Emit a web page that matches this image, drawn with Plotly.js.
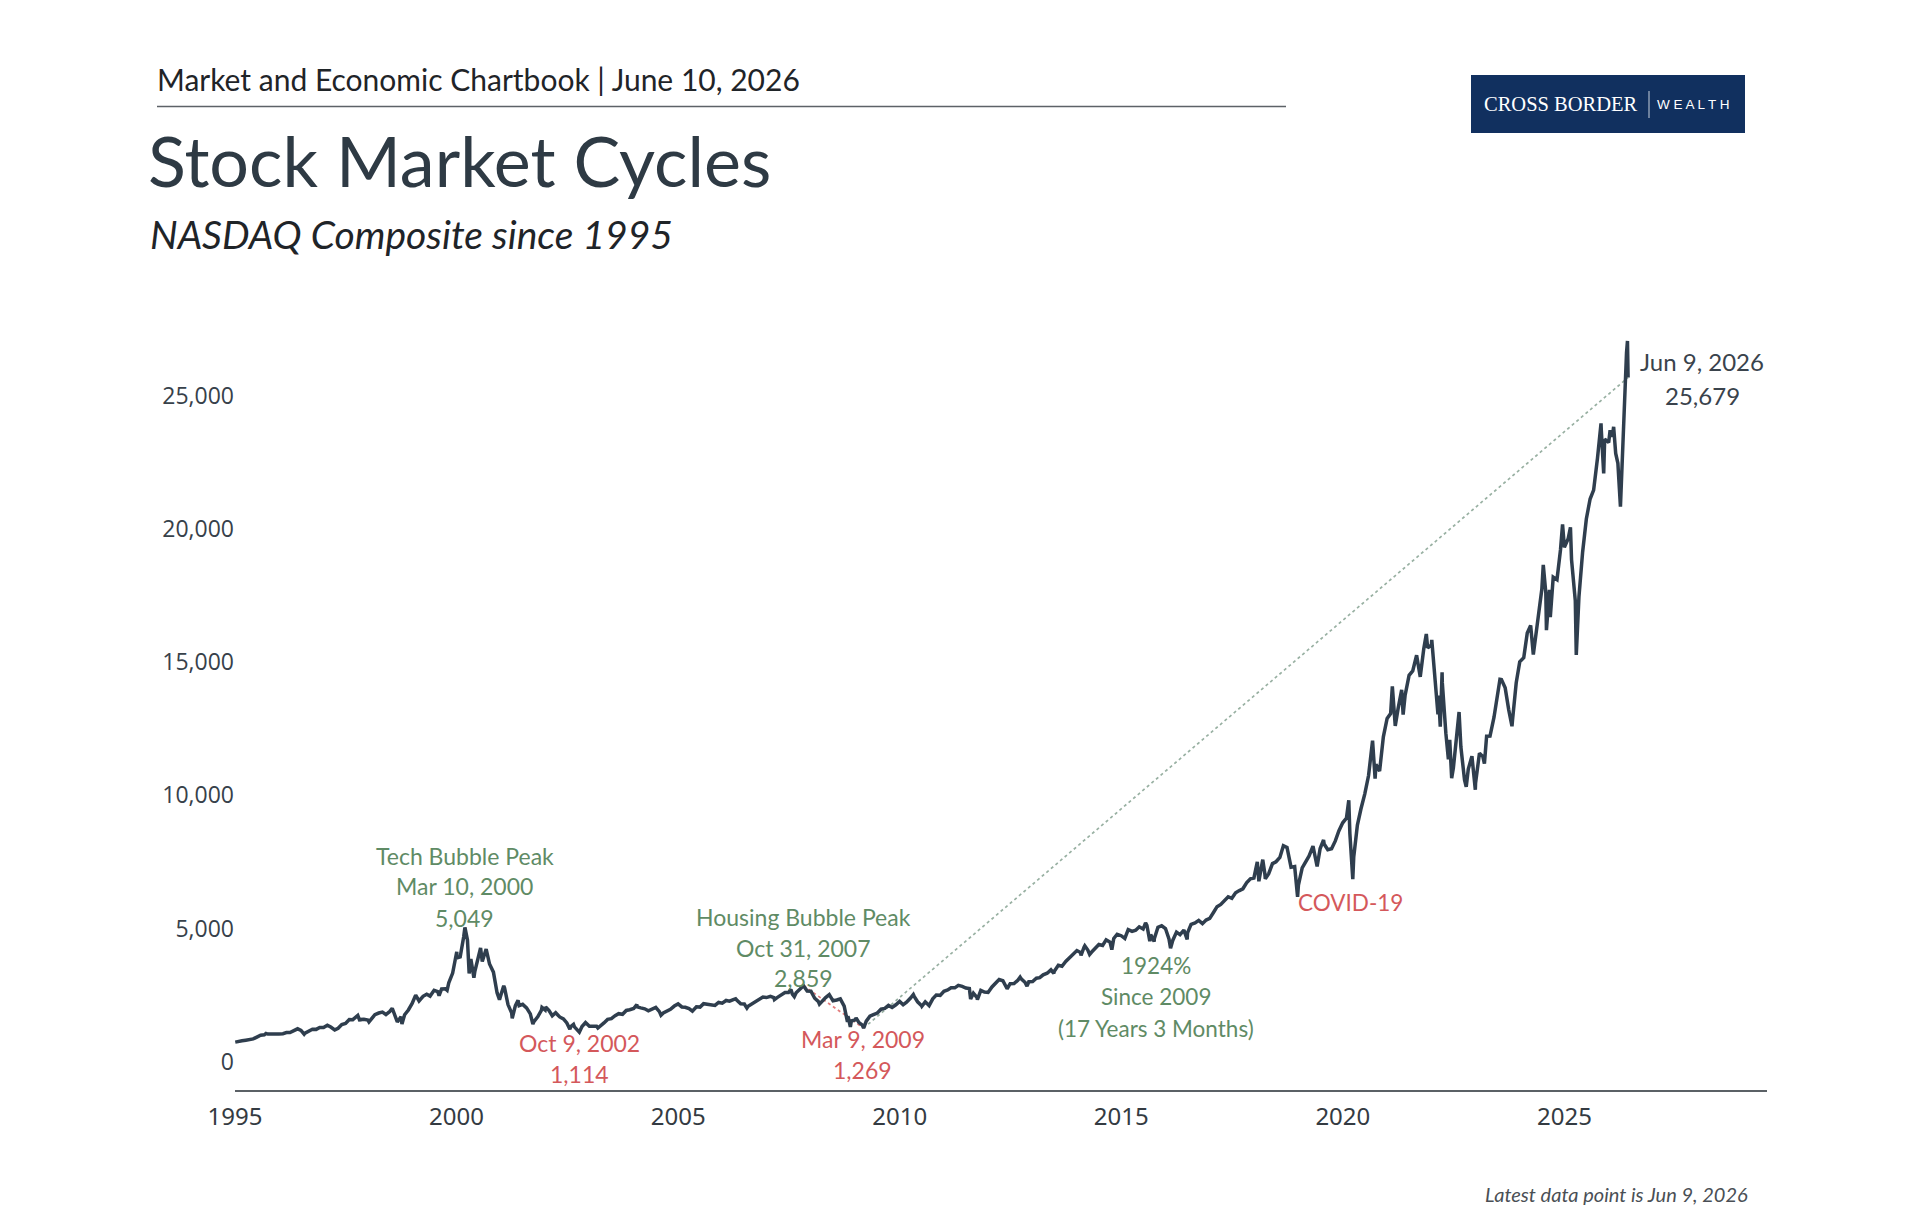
<!DOCTYPE html>
<html>
<head>
<meta charset="utf-8">
<script src="https://cdn.plot.ly/plotly-3.0.1.min.js"></script>
<style>html,body{margin:0;padding:0;background:#fff;}#chart{width:1920px;height:1205px;}</style>
</head>
<body>
<div id="chart"></div>
<script>
// NASDAQ Composite closes (month-ends plus notable intra-month turning points)
const dates = [
'1995-01-03','1995-01-31','1995-02-28','1995-03-31','1995-04-28','1995-05-31','1995-06-30','1995-07-31','1995-08-31','1995-09-13','1995-09-29','1995-10-31','1995-11-30','1995-12-29',
'1996-01-31','1996-02-29','1996-03-29','1996-04-30','1996-05-24','1996-05-31','1996-06-28','1996-07-24','1996-07-31','1996-08-30','1996-09-30','1996-10-31','1996-11-29','1996-12-31',
'1997-01-31','1997-02-28','1997-03-31','1997-04-02','1997-04-30','1997-05-30','1997-06-30','1997-07-31','1997-08-29','1997-09-30','1997-10-09','1997-10-27','1997-10-31','1997-11-28','1997-12-31',
'1998-01-09','1998-01-30','1998-02-27','1998-03-31','1998-04-30','1998-05-29','1998-06-30','1998-07-20','1998-07-31','1998-08-31','1998-09-30','1998-10-08','1998-10-30','1998-11-30','1998-12-31',
'1999-01-29','1999-02-26','1999-03-31','1999-04-30','1999-05-28','1999-06-30','1999-07-30','1999-08-10','1999-08-31','1999-09-30','1999-10-15','1999-10-29','1999-11-30','1999-12-31',
'2000-01-03','2000-01-04','2000-01-31','2000-02-29','2000-03-10','2000-03-31','2000-04-14','2000-04-28','2000-05-23','2000-05-31','2000-06-30','2000-07-17','2000-07-31','2000-08-31','2000-09-01','2000-09-29','2000-10-31','2000-11-30','2000-12-20','2000-12-29',
'2001-01-24','2001-01-31','2001-02-28','2001-03-30','2001-04-04','2001-04-30','2001-05-22','2001-05-31','2001-06-29','2001-07-31','2001-08-31','2001-09-21','2001-09-28','2001-10-31','2001-11-30','2001-12-05','2001-12-31',
'2002-01-04','2002-01-31','2002-02-28','2002-03-28','2002-04-30','2002-05-31','2002-06-28','2002-07-23','2002-07-31','2002-08-22','2002-08-30','2002-09-30','2002-10-09','2002-10-31','2002-11-29','2002-12-31',
'2003-01-31','2003-02-28','2003-03-11','2003-03-31','2003-04-30','2003-05-30','2003-06-30','2003-07-31','2003-08-29','2003-09-30','2003-10-31','2003-11-28','2003-12-31',
'2004-01-26','2004-01-30','2004-02-27','2004-03-31','2004-04-30','2004-05-28','2004-06-30','2004-07-30','2004-08-12','2004-08-31','2004-09-30','2004-10-29','2004-11-30','2004-12-31',
'2005-01-31','2005-02-28','2005-03-31','2005-04-28','2005-05-31','2005-06-30','2005-07-29','2005-08-31','2005-09-30','2005-10-31','2005-11-30','2005-12-30',
'2006-01-31','2006-02-28','2006-03-31','2006-04-19','2006-04-28','2006-05-31','2006-06-30','2006-07-21','2006-07-31','2006-08-31','2006-09-29','2006-10-31','2006-11-30','2006-12-29',
'2007-01-31','2007-02-28','2007-03-05','2007-03-30','2007-04-30','2007-05-31','2007-06-29','2007-07-19','2007-07-31','2007-08-16','2007-08-31','2007-09-28','2007-10-31','2007-11-30','2007-12-31',
'2008-01-31','2008-02-29','2008-03-10','2008-03-31','2008-04-30','2008-05-30','2008-06-30','2008-07-31','2008-08-29','2008-09-30','2008-10-27','2008-10-31','2008-11-20','2008-11-28','2008-12-31',
'2009-01-06','2009-01-30','2009-02-27','2009-03-09','2009-03-31','2009-04-30','2009-05-29','2009-06-30','2009-07-31','2009-08-31','2009-09-30','2009-10-30','2009-11-30','2009-12-31',
'2010-01-29','2010-02-26','2010-03-31','2010-04-23','2010-04-30','2010-05-28','2010-06-30','2010-07-02','2010-07-30','2010-08-31','2010-09-30','2010-10-29','2010-11-30','2010-12-31',
'2011-01-31','2011-02-28','2011-03-31','2011-04-29','2011-05-31','2011-06-30','2011-07-29','2011-08-08','2011-08-31','2011-09-30','2011-10-03','2011-10-31','2011-11-30','2011-12-30',
'2012-01-31','2012-02-29','2012-03-30','2012-04-30','2012-05-31','2012-06-04','2012-06-29','2012-07-31','2012-08-31','2012-09-19','2012-09-28','2012-10-31','2012-11-15','2012-11-30','2012-12-31',
'2013-01-31','2013-02-28','2013-03-28','2013-04-30','2013-05-31','2013-06-24','2013-06-28','2013-07-31','2013-08-30','2013-09-30','2013-10-31','2013-11-29','2013-12-31',
'2014-01-31','2014-02-03','2014-02-28','2014-03-06','2014-03-31','2014-04-15','2014-04-30','2014-05-30','2014-06-30','2014-07-31','2014-08-29','2014-09-30','2014-10-15','2014-10-31','2014-11-28','2014-12-31',
'2015-01-30','2015-02-27','2015-03-31','2015-04-30','2015-05-29','2015-06-30','2015-07-20','2015-07-31','2015-08-24','2015-08-31','2015-09-29','2015-09-30','2015-10-30','2015-11-30','2015-12-31',
'2016-01-29','2016-02-11','2016-02-29','2016-03-31','2016-04-29','2016-05-31','2016-06-27','2016-06-30','2016-07-29','2016-08-31','2016-09-30','2016-10-31','2016-11-30','2016-12-30',
'2017-01-31','2017-02-28','2017-03-31','2017-04-28','2017-05-31','2017-06-30','2017-07-31','2017-08-31','2017-09-29','2017-10-31','2017-11-30','2017-12-29',
'2018-01-26','2018-02-08','2018-02-28','2018-03-12','2018-03-29','2018-04-02','2018-04-30','2018-05-31','2018-06-29','2018-07-31','2018-08-29','2018-09-28','2018-10-31','2018-11-30','2018-12-24','2018-12-31',
'2019-01-31','2019-02-28','2019-03-29','2019-04-30','2019-05-31','2019-06-03','2019-06-28','2019-07-26','2019-07-31','2019-08-30','2019-09-30','2019-10-31','2019-11-29','2019-12-31',
'2020-01-31','2020-02-19','2020-02-28','2020-03-23','2020-03-31','2020-04-30','2020-05-29','2020-06-30','2020-07-31','2020-08-31','2020-09-02','2020-09-23','2020-09-30','2020-10-30','2020-11-30','2020-12-31',
'2021-01-29','2021-02-12','2021-02-26','2021-03-08','2021-03-31','2021-04-30','2021-05-12','2021-05-28','2021-06-30','2021-07-30','2021-08-31','2021-09-30','2021-10-29','2021-11-19','2021-11-30','2021-12-31',
'2022-01-03','2022-01-31','2022-02-23','2022-02-28','2022-03-14','2022-03-29','2022-03-31','2022-04-29','2022-05-20','2022-05-31','2022-06-16','2022-06-30','2022-07-29','2022-08-16','2022-08-31','2022-09-30','2022-10-14','2022-10-31','2022-11-30','2022-12-28','2022-12-30',
'2023-01-31','2023-02-28','2023-03-13','2023-03-31','2023-04-28','2023-05-31','2023-06-30','2023-07-19','2023-07-31','2023-08-31','2023-09-29','2023-10-26','2023-10-31','2023-11-30','2023-12-29',
'2024-01-31','2024-02-29','2024-03-28','2024-04-19','2024-04-30','2024-05-31','2024-06-28','2024-07-10','2024-07-31','2024-08-05','2024-08-30','2024-09-06','2024-09-30','2024-10-31','2024-11-29','2024-12-16','2024-12-31',
'2025-01-31','2025-02-19','2025-02-28','2025-03-31','2025-04-08','2025-04-30','2025-05-30','2025-06-30','2025-07-31','2025-08-29','2025-09-30','2025-10-29','2025-10-31','2025-11-20','2025-11-28','2025-12-31',
'2026-01-12','2026-01-30','2026-02-10','2026-02-27','2026-03-17','2026-04-07','2026-05-27','2026-06-04','2026-06-09'
];
const closes = [
743,755,793,817,843,865,933,1001,1020,1067,1044,1036,1059,1052,
1060,1100,1101,1191,1250,1243,1185,1042,1081,1142,1227,1222,1293,1291,
1380,1309,1222,1201,1261,1400,1442,1594,1587,1686,1745,1535,1594,1601,1570,
1503,1619,1771,1835,1868,1779,1895,2014,1872,1499,1694,1419,1771,1950,2193,
2506,2288,2461,2543,2471,2686,2638,2490,2739,2746,2688,2966,3336,4069,
4131,3901,3940,4697,5049,4573,3321,3861,3164,3401,3966,4275,3767,4206,4234,3673,3370,2598,2333,2471,
2859,2773,2152,1840,1638,2116,2313,2110,2161,2027,1805,1423,1499,1690,1931,2046,1950,
2059,1934,1731,1845,1688,1616,1463,1229,1328,1409,1315,1172,1114,1330,1479,1336,
1321,1338,1271,1341,1464,1596,1623,1735,1810,1787,1932,1960,2003,
2153,2066,2030,1994,1920,1987,2048,1887,1752,1838,1897,1975,2097,2175,
2062,2052,1999,1904,2068,2057,2185,2152,2152,2120,2233,2205,
2306,2281,2340,2370,2323,2179,2172,2020,2091,2184,2258,2367,2432,2415,
2464,2416,2340,2422,2525,2605,2603,2720,2546,2451,2596,2701,2859,2661,2652,
2390,2271,2169,2279,2413,2523,2293,2326,2368,2092,1505,1721,1316,1536,1577,
1652,1476,1378,1269,1529,1717,1774,1835,1979,2009,2122,2045,2145,2269,
2147,2238,2398,2530,2461,2257,2109,2091,2255,2114,2369,2507,2498,2653,
2700,2782,2781,2874,2835,2774,2756,2358,2580,2415,2335,2684,2620,2605,
2814,2967,3092,3046,2827,2747,2935,2940,3067,3182,3116,2977,2846,3010,3020,
3142,3160,3268,3329,3456,3320,3403,3626,3590,3771,3920,4060,4177,
4104,3996,4308,4358,4199,4034,4115,4243,4408,4370,4580,4493,4215,4631,4792,4736,
4635,4964,4901,4941,5070,4987,5219,5128,4526,4777,4517,4620,5054,5109,5007,
4614,4267,4558,4870,4775,4948,4594,4843,5162,5213,5312,5189,5324,5383,
5615,5825,5912,6048,6199,6140,6348,6429,6496,6728,6874,6903,
7506,6777,7273,7589,7063,6870,7066,7442,7510,7672,8110,8046,7306,7331,6193,6635,
7282,7533,7729,8095,7453,7333,8006,8330,8175,7963,7999,8292,8665,8973,
9151,9817,8567,6861,7700,8890,9490,10059,10745,11775,12056,10633,11168,10912,12199,12888,
13071,14095,13192,12609,13247,13962,13032,13749,14504,14673,15259,14449,15498,16057,15538,15645,
15833,14240,13037,13751,12581,14620,14221,12335,11354,12081,10646,11029,12391,13128,11816,10576,10321,10988,11468,10213,10466,
11585,11456,11189,12222,12227,12935,13788,14358,14346,14035,13219,12596,12851,14226,15011,
15164,16092,16379,15282,15658,16735,17733,18647,17599,16200,17714,16691,18189,18095,19218,20173,19311,
19627,20056,18847,17299,15268,17446,19114,20370,21122,21456,22660,23958,23725,22078,23366,23242,
23700,23460,23830,22830,22460,20830,26600,27050,25679
];

// Cycle turning points: tech peak, 2002 trough, housing peak, 2009 trough, latest
const cycleDates  = ['2000-03-10','2002-10-09','2007-10-31','2009-03-09','2026-06-09'];
const cycleValues = [5049, 1114, 2859, 1269, 25679];

const yearTicks  = ['1995','2000','2005','2010','2015','2020','2025'];
const valueTicks = [0, 5000, 10000, 15000, 20000, 25000];
const valueTickText = ['0','5,000','10,000','15,000','20,000','25,000'];

const GREEN = '#5f8b65', RED = '#d4585b', DARK = '#3a434c';
const FONT = 'Lato, "Noto Sans", sans-serif';

// pixel -> paper helpers (plot area: left 235, right 1767, top 329, bottom 1090)
const PL = 235, PW = 1532, PB = 1090, PH = 761;
const px = p => (p - PL) / PW;
const py = p => (PB - p) / PH;

const traces = [
  { x: [cycleDates[2], cycleDates[3]], y: [cycleValues[2], cycleValues[3]], mode: 'lines',
    line: { color: '#e27b7b', width: 1.7, dash: 'dot' }, hoverinfo: 'skip' },
  { x: [cycleDates[3], cycleDates[4]], y: [cycleValues[3], cycleValues[4]], mode: 'lines',
    line: { color: '#98b0a2', width: 1.7, dash: 'dot' }, hoverinfo: 'skip' },
  { x: dates, y: closes, mode: 'lines', line: { color: '#2f3e4e', width: 3.5 }, hoverinfo: 'skip' }
];

function pointLabel(i, lines, color, shifts, xshift, size) {
  return lines.map((t, k) => ({
    x: cycleDates[i], y: cycleValues[i], xref: 'x', yref: 'y', text: t, showarrow: false,
    xanchor: 'center', yanchor: 'middle', yshift: shifts[k], xshift: xshift || 0,
    font: { family: FONT, size: size || 23, color: color }
  }));
}
function dataLabel(xd, lines, ys, color) {
  return lines.map((t, k) => ({
    x: xd, y: ys[k], xref: 'x', yref: 'y', text: t, showarrow: false,
    xanchor: 'center', yanchor: 'middle', font: { family: FONT, size: 22.5, color: color }
  }));
}

const annotations = [].concat(
  pointLabel(0, ['Tech Bubble Peak', 'Mar 10, 2000', '5,049'], GREEN, [71, 41, 9]),
  pointLabel(1, ['Oct 9, 2002', '1,114'], RED, [-11, -42]),
  pointLabel(2, ['Housing Bubble Peak', 'Oct 31, 2007', '2,859'], GREEN, [69, 38, 8]),
  pointLabel(3, ['Mar 9, 2009', '1,269'], RED, [-11, -42], -1),
  pointLabel(4, ['Jun 9, 2026', '25,679'], DARK, [16, -18], 74, 24),
  dataLabel('2015-10-12', ['1924%', 'Since 2009', '(17 Years 3 Months)'], [3601, 2438, 1253], GREEN),
  dataLabel('2020-03-04', ['COVID-19'], [5983], RED),
  [
    { xref: 'paper', yref: 'paper', x: px(155), y: py(79), xanchor: 'left', yanchor: 'middle', showarrow: false,
      text: 'Market and Economic Chartbook | June 10, 2026', font: { family: FONT, size: 30, color: '#1f2428' } },
    { xref: 'paper', yref: 'paper', x: px(146), y: py(160), xanchor: 'left', yanchor: 'middle', showarrow: false,
      text: 'Stock Market Cycles', font: { family: FONT, size: 70, color: '#2e3a44' } },
    { xref: 'paper', yref: 'paper', x: px(148), y: py(234), xanchor: 'left', yanchor: 'middle', showarrow: false,
      text: '<i>NASDAQ Composite since 1995</i>', font: { family: FONT, size: 39, color: '#1f2428' } },
    { xref: 'paper', yref: 'paper', x: px(1482), y: py(104), xanchor: 'left', yanchor: 'middle', showarrow: false,
      text: 'CROSS BORDER', font: { family: '"Liberation Serif", "DejaVu Serif", serif', size: 20.5, color: '#ffffff' } },
    { xref: 'paper', yref: 'paper', x: px(1655), y: py(104), xanchor: 'left', yanchor: 'middle', showarrow: false,
      text: 'W E A L T H', font: { family: '"Liberation Sans", sans-serif', size: 13.5, color: '#ffffff' } },
    { xref: 'paper', yref: 'paper', x: px(1750), y: py(1194), xanchor: 'right', yanchor: 'middle', showarrow: false,
      text: '<i>Latest data point is Jun 9, 2026</i>', font: { family: FONT, size: 20, color: '#4a4f55' } }
  ]
);

const shapes = [
  { type: 'line', xref: 'paper', yref: 'paper', x0: px(157), x1: px(1286), y0: py(106.5), y1: py(106.5),
    line: { color: '#5d6267', width: 1.5 } },
  { type: 'rect', xref: 'paper', yref: 'paper', x0: px(1471), x1: px(1745), y0: py(133), y1: py(75),
    fillcolor: '#11305f', line: { width: 0 } },
  { type: 'line', xref: 'paper', yref: 'paper', x0: px(1649), x1: px(1649), y0: py(118), y1: py(91),
    line: { color: '#c8d0dc', width: 1 } }
];

const layout = {
  width: 1920, height: 1205,
  margin: { l: 235, r: 153, t: 329, b: 115, pad: 0 },
  paper_bgcolor: '#ffffff', plot_bgcolor: '#ffffff',
  showlegend: false,
  xaxis: {
    type: 'date', range: ['1995-01-01', '2029-07-28'],
    tickvals: yearTicks.map(y => y + '-01-01'), ticktext: yearTicks,
    showline: true, linecolor: '#5b6166', linewidth: 2,
    showgrid: false, zeroline: false,
    ticks: 'outside', ticklen: 4, tickcolor: 'rgba(0,0,0,0)',
    tickfont: { family: '"Liberation Sans Narrow", "Noto Sans", sans-serif', size: 24, color: '#343b42' }
  },
  yaxis: {
    range: [-1053, 27500], tickvals: valueTicks, ticktext: valueTickText,
    showline: false, showgrid: false, zeroline: false, ticks: '',
    tickfont: { family: '"Open Sans", "Noto Sans", sans-serif', size: 23, color: '#37414a' }
  },
  annotations: annotations,
  shapes: shapes
};

Plotly.newPlot('chart', traces, layout, { staticPlot: true, displayModeBar: false });
</script>
</body>
</html>
